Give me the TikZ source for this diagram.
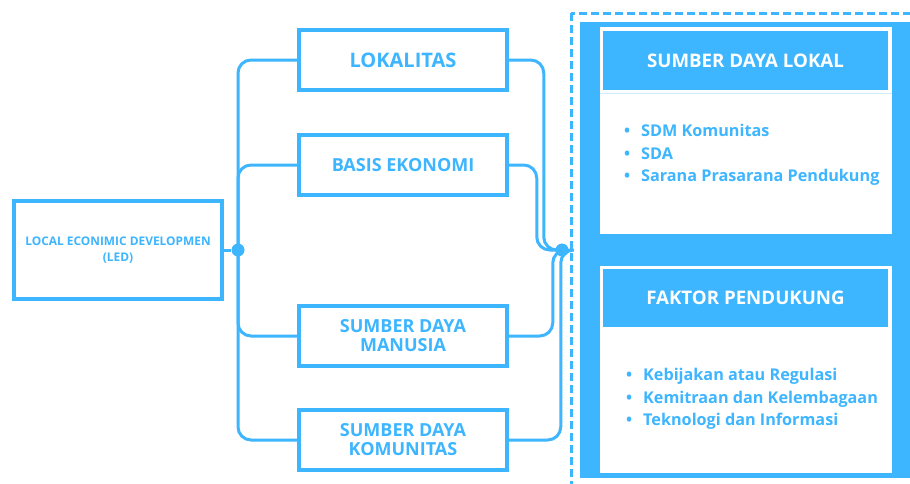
\documentclass[tikz,border=0pt]{standalone}
\usepackage{fontspec}
\setmainfont{Open Sans}
\usepackage{xcolor}
\usetikzlibrary{positioning,calc}
\definecolor{ledblue}{RGB}{61,181,255}

\begin{document}
\begin{tikzpicture}[x=1pt,y=-1pt,
    topic/.style={rectangle, draw=ledblue, line width=3.5pt, fill=white, minimum width=208pt, minimum height=60pt, text=ledblue, font=\bfseries\fontsize{18}{19}\selectfont, align=center},
    link/.style={draw=ledblue, line width=3pt, rounded corners=13pt},
    joint/.style={circle, fill=ledblue, inner sep=0pt, minimum size=13pt},
    header/.style={rectangle, fill=ledblue, minimum width=285pt, text=white, font=\bfseries\fontsize{18.7}{21}\selectfont},
    panel/.style={rectangle, fill=white, minimum width=292pt, minimum height=207pt},
    items/.style={anchor=west, inner sep=0pt, text=ledblue, font=\bfseries\fontsize{16.2}{22.5}\selectfont, align=left}
]
    \useasboundingbox (0,0) rectangle (910,483);

    % right frame
    \draw[ledblue, line width=3pt, dash pattern=on 8pt off 4pt] (571,13) rectangle (950,530);
    \fill[ledblue] (580,22) rectangle (950,478);

    \node[panel] (lokalbox) at (746,130.5) {};
    \node[header, minimum height=59pt] (lokal) at (745.5,60.5) {SUMBER DAYA LOKAL};
    \draw[ledblue!25, line width=1pt] (lokalbox.west |- 0,93) -- (lokalbox.east |- 0,93);
    \node[items] (lokalitems) at (624,155) {\makebox[17pt][l]{\textbullet}SDM Komunitas\\\makebox[17pt][l]{\textbullet}SDA\\\makebox[17pt][l]{\textbullet}Sarana Prasarana Pendukung};

    \node[panel] (faktorbox) at (746,369.5) {};
    \node[header, minimum height=58pt] (faktor) at (745.5,298) {FAKTOR PENDUKUNG};
    \node[items] (faktoritems) at (626,399) {\makebox[17pt][l]{\textbullet}Kebijakan atau Regulasi\\\makebox[17pt][l]{\textbullet}Kemitraan dan Kelembagaan\\\makebox[17pt][l]{\textbullet}Teknologi dan Informasi};

    % left side
    \node[topic, minimum height=98pt, font=\bfseries\fontsize{11.9}{16.5}\selectfont] (led) at (118,250) {LOCAL ECONIMIC DEVELOPMEN\\(LED)};
    \node[topic, font=\bfseries\fontsize{20}{21}\selectfont] (lok) at (403,60) {LOKALITAS};
    \node[topic] (basis) at (403,165) {BASIS EKONOMI};
    \node[topic] (sdm) at (403,336) {SUMBER DAYA\\MANUSIA};
    \node[topic] (sdk) at (403,440) {SUMBER DAYA\\KOMUNITAS};

    \node[joint] (jl) at (238,250) {};
    \node[joint] (jr) at (562,250) {};

    \draw[link] (led) -- (jl);
    \foreach \n in {lok,basis,sdm,sdk}
        \draw[link] (jl.center) |- (\n.west);

    \draw[link] (lok.east) -- ++(35,0) |- (jr.center);
    \draw[link] (basis.east) -- ++(28,0) |- (jr.center);
    \draw[link] (sdm.east) -- ++(44,0) |- (jr.center);
    \draw[link] (sdk.east) -- ++(52,0) |- (jr.center);
\end{tikzpicture}
\end{document}
